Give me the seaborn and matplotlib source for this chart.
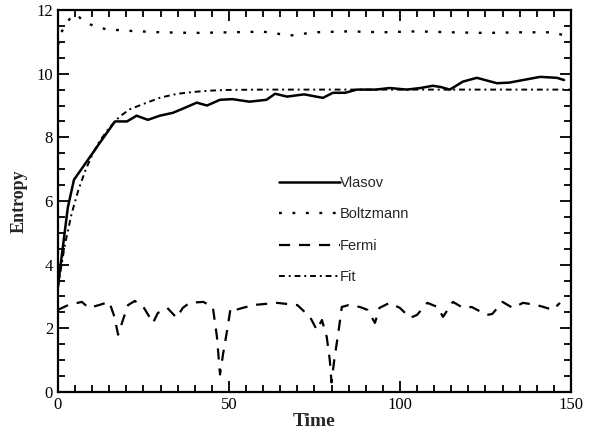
import matplotlib
matplotlib.use("Agg")
import matplotlib.pyplot as plt
from matplotlib.ticker import MultipleLocator
import seaborn as sns
import pandas as pd

# values
vlasov_t = [0, 1.5, 2.9, 4.7, 7, 10, 12, 14.3, 16.7, 20.2, 23, 26.3, 29.8, 33.6, 36.5,
            40.6, 43.6, 47.4, 51, 56, 61, 63.5, 67, 72, 77.5, 80.4, 84, 87.4, 93, 97,
            102, 106, 109.6, 112, 114.6, 118.4, 122.5, 128.4, 132, 136, 141, 145.9, 148]
vlasov_v = [3.3, 4.6, 5.8, 6.67, 7.02, 7.48, 7.79, 8.14, 8.5, 8.5, 8.68, 8.55, 8.68, 8.77, 8.9,
            9.09, 9.0, 9.18, 9.2, 9.12, 9.18, 9.37, 9.28, 9.35, 9.24, 9.4, 9.4, 9.5, 9.5, 9.55,
            9.5, 9.55, 9.62, 9.58, 9.5, 9.75, 9.87, 9.7, 9.72, 9.8, 9.9, 9.87, 9.8]

boltz_t = [0, 1, 2.6, 4, 5.5, 7, 9.4, 12, 14, 20, 30, 40, 50, 60, 68, 75, 85, 95,
           105, 115, 125, 135, 145, 148]
boltz_v = [10.9, 11.3, 11.6, 11.8, 11.85, 11.7, 11.55, 11.45, 11.4, 11.35, 11.3, 11.28,
           11.3, 11.32, 11.2, 11.3, 11.33, 11.3, 11.33, 11.3, 11.28, 11.3, 11.3, 11.2]

fermi_t = [0, 3, 7, 9, 12, 15, 16.5, 17.6, 19, 20.5, 22.5, 25, 27.8, 29.2, 32, 34.7, 36.5,
           38.5, 42.5, 45.3, 46.5, 47.4, 48.3, 49.5, 50.5, 52, 57, 64, 70, 73.7, 75.7, 77.2,
           78.6, 79.5, 80, 80.8, 81.8, 82.5, 83, 85, 88.3, 90.5, 92.7, 94, 97, 100, 103, 105,
           108, 111, 112.6, 115.5, 118.5, 121, 125.4, 127, 130, 133, 136, 140, 142, 144.7, 146.8]
fermi_v = [2.58, 2.73, 2.83, 2.64, 2.73, 2.83, 2.37, 1.8, 2.26, 2.73, 2.86, 2.67, 2.17, 2.48,
           2.64, 2.33, 2.64, 2.8, 2.83, 2.67, 1.73, 0.55, 1.2, 1.95, 2.64, 2.58, 2.73, 2.8,
           2.73, 2.36, 1.95, 2.26, 1.73, 1.0, 0.3, 1.0, 1.73, 2.26, 2.67, 2.73, 2.67, 2.58,
           2.17, 2.64, 2.8, 2.64, 2.33, 2.42, 2.8, 2.67, 2.36, 2.83, 2.64, 2.67, 2.42, 2.45,
           2.83, 2.64, 2.8, 2.73, 2.67, 2.58, 2.8]

fit_t = [0, 2, 4, 6, 8, 10, 12, 15, 18, 21, 25, 30, 35, 40, 45, 50, 60, 80, 100, 120, 150]
fit_v = [3.3, 4.6, 5.6, 6.35, 6.95, 7.45, 7.85, 8.3, 8.65, 8.88, 9.05, 9.25, 9.37, 9.43,
         9.47, 9.49, 9.5, 9.5, 9.5, 9.5, 9.5]

sns.set_style("ticks")
plt.rcParams["font.family"] = ["Liberation Serif", "DejaVu Serif"]

fig, ax = plt.subplots(figsize=(5.91, 4.36), dpi=100)
fig.subplots_adjust(left=0.098, right=0.966, top=0.977, bottom=0.101)

sns.lineplot(x=vlasov_t, y=vlasov_v, ax=ax, color="black", lw=1.8, label="Vlasov")
sns.lineplot(x=boltz_t, y=boltz_v, ax=ax, color="black", lw=1.7, label="Boltzmann",
             linestyle=(0, (1.2, 4.5)))
sns.lineplot(x=fermi_t, y=fermi_v, ax=ax, color="black", lw=1.6, label="Fermi",
             linestyle=(0, (5, 4)))
sns.lineplot(x=fit_t, y=fit_v, ax=ax, color="black", lw=1.4, label="Fit",
             linestyle=(0, (3, 2, 1, 2)))

ax.set_xlim(0, 150)
ax.set_ylim(0, 12)
ax.xaxis.set_major_locator(MultipleLocator(50))
ax.xaxis.set_minor_locator(MultipleLocator(5))
ax.yaxis.set_major_locator(MultipleLocator(2))
ax.yaxis.set_minor_locator(MultipleLocator(0.5))
ax.tick_params(which="both", direction="in", top=True, right=True, width=1.3,
               labelsize=12, colors="black")
ax.tick_params(which="major", length=8)
ax.tick_params(which="minor", length=5)
for s in ax.spines.values():
    s.set_linewidth(1.6)
    s.set_color("black")

ax.set_xlabel("Time", fontsize=14, fontweight="bold", labelpad=0)
ax.set_ylabel("Entropy", fontsize=13, fontweight="bold", labelpad=6)

leg = ax.legend(loc="upper left", bbox_to_anchor=(0.405, 0.6), frameon=False,
                handlelength=4.2, handletextpad=0.0, labelspacing=1.2,
                prop={"family": ["Liberation Sans", "DejaVu Sans"], "size": 10.5})

fig.savefig("out.png", dpi=100)
